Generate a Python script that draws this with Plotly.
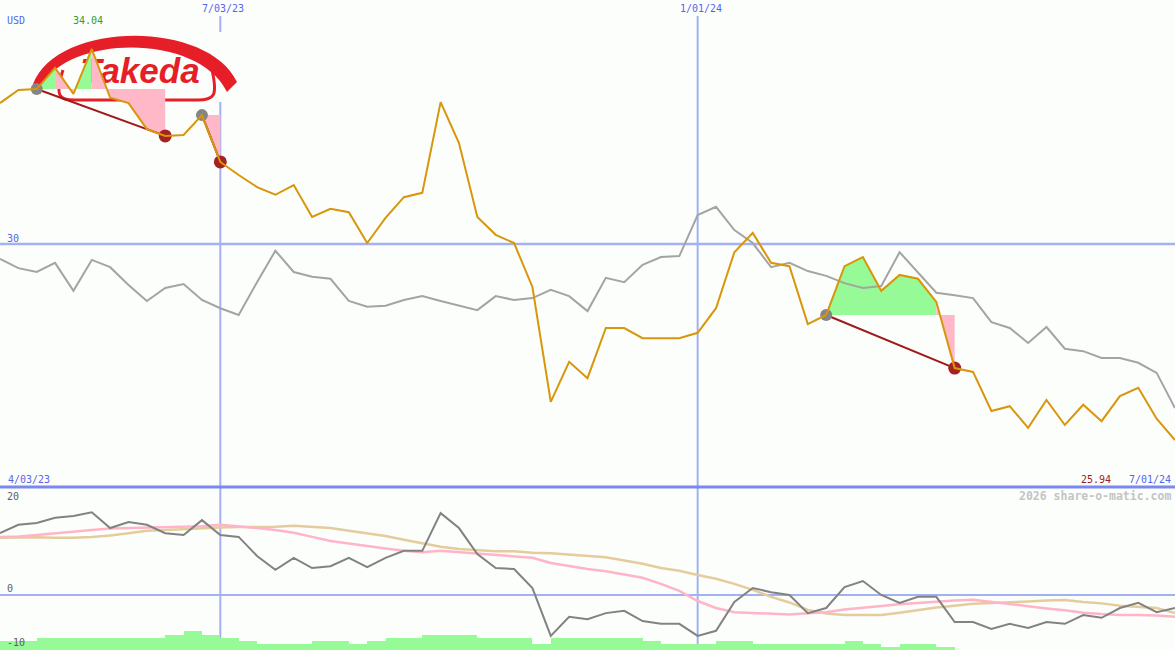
import plotly.graph_objects as go
import pandas as pd

W, H = 1175, 650

# ---------------- data ----------------
dates = pd.date_range("2023-04-10", periods=65, freq="7D")

price = [32.92, 33.19, 33.21, 33.65, 33.11, 34.04, 33.03, 32.92, 32.38, 32.24,
         32.26, 32.67, 31.70, 31.43, 31.18, 31.02, 31.22, 30.56, 30.73, 30.66,
         30.02, 30.54, 30.97, 31.06, 32.94, 32.09, 30.56, 30.19, 30.02, 29.11,
         26.73, 27.56, 27.22, 28.26, 28.26, 28.05, 28.05, 28.05, 28.16, 28.67,
         29.83, 30.23, 29.61, 29.54, 28.34, 28.53, 29.54, 29.73, 29.03, 29.36,
         29.28, 28.80, 27.43, 27.35, 26.54, 26.64, 26.19, 26.77, 26.25, 26.67,
         26.33, 26.85, 27.02, 26.38, 25.94]

index_cmp = [29.69, 29.50, 29.42, 29.61, 29.03, 29.67, 29.52, 29.15, 28.82, 29.09,
             29.17, 28.84, 28.67, 28.53, 29.21, 29.86, 29.42, 29.32, 29.28, 28.82,
             28.70, 28.72, 28.84, 28.92, 28.82, 28.72, 28.63, 28.92, 28.84, 28.88,
             29.05, 28.92, 28.61, 29.30, 29.21, 29.57, 29.73, 29.75, 30.60, 30.77,
             30.29, 30.02, 29.52, 29.61, 29.44, 29.34, 29.19, 29.09, 29.13, 29.83,
             29.42, 28.99, 28.94, 28.88, 28.38, 28.26, 27.95, 28.28, 27.83, 27.78,
             27.64, 27.64, 27.54, 27.33, 26.60]

momentum = [13.3, 15.1, 15.5, 16.6, 17.0, 17.8, 14.4, 15.7, 15.1, 13.3,
            12.9, 16.1, 12.9, 12.5, 8.4, 5.4, 8.0, 5.8, 6.2, 8.0,
            6.0, 8.0, 9.5, 9.5, 17.6, 14.4, 8.8, 5.8, 5.6, 1.5,
            -8.8, -4.7, -5.2, -3.9, -3.4, -5.6, -6.2, -6.2, -8.8, -7.7,
            -1.5, 1.5, 0.6, 0.0, -3.9, -2.8, 1.7, 3.0, 0.0, -1.7,
            -0.4, -0.4, -5.8, -5.8, -7.3, -6.2, -7.1, -5.8, -6.2, -4.3,
            -4.9, -2.8, -1.7, -3.7, -2.8]

momentum_fast = [12.5, 12.6, 12.9, 13.3, 13.7, 14.0, 14.3, 14.4, 14.6, 14.6,
                 14.7, 14.8, 15.1, 14.8, 14.4, 14.0, 13.4, 12.5, 11.6, 11.1,
                 10.5, 10.0, 9.5, 9.2, 9.5, 9.2, 9.0, 8.6, 8.4, 8.0,
                 6.9, 6.2, 5.6, 5.1, 4.4, 3.7, 2.4, 0.9, -1.3, -2.8,
                 -3.7, -3.9, -4.1, -4.2, -3.9, -3.7, -3.1, -2.7, -2.4, -2.0,
                 -1.7, -1.4, -1.2, -1.0, -1.5, -2.0, -2.5, -2.9, -3.3, -3.8,
                 -4.1, -4.3, -4.3, -4.4, -4.7]

momentum_slow = [12.3, 12.4, 12.4, 12.3, 12.3, 12.5, 12.8, 13.3, 13.8, 14.0,
                 14.2, 14.4, 14.5, 14.6, 14.6, 14.7, 14.9, 14.7, 14.4, 13.8,
                 13.3, 12.7, 11.9, 11.2, 10.4, 9.9, 9.7, 9.4, 9.4, 9.1,
                 9.0, 8.7, 8.4, 8.1, 7.4, 6.7, 5.8, 5.2, 4.3, 3.5,
                 2.4, 1.1, -0.4, -1.6, -3.2, -4.0, -4.3, -4.3, -4.3, -3.8,
                 -3.2, -2.7, -2.3, -1.9, -1.7, -1.6, -1.4, -1.2, -1.1, -1.5,
                 -1.8, -2.3, -2.6, -2.8, -3.9]

volume = [3, 3, 4, 4, 4, 4, 4, 4, 4, 5,
          6.3, 5, 4, 3, 2, 2, 2, 3, 3, 2,
          3, 4, 4, 5, 5, 5, 4, 4, 4, 2,
          4, 4, 4, 4, 4, 3, 2, 2, 2, 3,
          3, 2, 2, 2, 2, 2, 3, 2, 1, 2,
          2, 1, 0, 0, 0, 0, 0, 0, 0, 0,
          0, 0, 0, 0, 0]

pattern_start = [2, 11, 45]
pattern_end = [9, 12, 52]

marker_dates = ["2023-07-03", "2024-01-01"]
marker_labels = ["7/03/23", "1/01/24"]
first_label = "4/03/23"
last_label = "7/01/24"
currency = "USD"
top_level = 30
company = "Takeda"
credit = "2026 share-o-matic.com"

# ---------------- layout constants ----------------
BG = "#fcfefc"
BLUE_TXT = "#5565ee"
GRID = "#a3b1f2"
SEP = "#7b88ec"
GREEN_FILL = "#96fa96"
PINK_FILL = "#ffb8c8"
MONO = "DejaVu Sans Mono"

split = 1 - 487 / H
y_top_range = [24.966, 35.055]
y_osc_range = [-11.83, 23.23]
y_vol_range = [0, 54.33]
x_range = [dates[0], dates[-1]]
week_ms = 7 * 86400000


def px_x(p):
    return p / W


def px_y(p):
    return 1 - p / H


def px_to_date(p):
    return dates[0] + (dates[-1] - dates[0]) * (p / W)


def px_to_price(p):
    top_px, bot_px = 0, 487
    return y_top_range[1] - (p - top_px) / (bot_px - top_px) * (y_top_range[1] - y_top_range[0])


fig = go.Figure()

# logo text (drawn first, beneath everything)
fig.add_trace(go.Scatter(
    x=[px_to_date(140)], y=[px_to_price(74)], mode="text", text=[company],
    textfont=dict(family="Liberation Sans", size=35, color="#e61e28",
                  weight="bold", style="italic"),
    xaxis="x", yaxis="y", hoverinfo="skip", showlegend=False))

# pattern fills
gx, gy, rx, ry = [], [], [], []
for s, e in zip(pattern_start, pattern_end):
    b = price[s]
    for k in range(s, e):
        xs = [dates[k], dates[k], dates[k + 1], dates[k + 1], dates[k]]
        ys = [b, price[k], price[k + 1], b, b]
        if price[k + 1] >= b:
            gx += xs + [None]
            gy += ys + [None]
        else:
            rx += xs + [None]
            ry += ys + [None]

fig.add_trace(go.Scatter(x=gx, y=gy, fill="toself", fillcolor=GREEN_FILL, mode="lines",
                         line=dict(width=0, color=GREEN_FILL), xaxis="x", yaxis="y",
                         hoverinfo="skip", showlegend=False))
fig.add_trace(go.Scatter(x=rx, y=ry, fill="toself", fillcolor=PINK_FILL, mode="lines",
                         line=dict(width=0, color=PINK_FILL), xaxis="x", yaxis="y",
                         hoverinfo="skip", showlegend=False))

# comparison index
fig.add_trace(go.Scatter(x=dates, y=index_cmp, mode="lines",
                         line=dict(color="#a4a4a4", width=2), xaxis="x", yaxis="y",
                         showlegend=False))

# pattern trend lines
tx, ty = [], []
for s, e in zip(pattern_start, pattern_end):
    tx += [dates[s], dates[e], None]
    ty += [price[s], price[e], None]
fig.add_trace(go.Scatter(x=tx, y=ty, mode="lines", line=dict(color="#a01a1a", width=2),
                         xaxis="x", yaxis="y", showlegend=False))

fig.add_trace(go.Scatter(x=[dates[s] for s in pattern_start], y=[price[s] for s in pattern_start],
                         mode="markers", marker=dict(color="#858585", size=12),
                         xaxis="x", yaxis="y", showlegend=False))
fig.add_trace(go.Scatter(x=[dates[e] for e in pattern_end], y=[price[e] for e in pattern_end],
                         mode="markers", marker=dict(color="#a52222", size=13),
                         xaxis="x", yaxis="y", showlegend=False))

# price
fig.add_trace(go.Scatter(x=dates, y=price, mode="lines",
                         line=dict(color="#d8960a", width=2), xaxis="x", yaxis="y",
                         showlegend=False))

# bottom panel: volume
fig.add_trace(go.Bar(x=dates + pd.Timedelta(hours=84), y=volume, width=week_ms,
                     marker=dict(color=GREEN_FILL, line=dict(width=0)),
                     xaxis="x2", yaxis="y2", showlegend=False))

fig.add_trace(go.Scatter(x=dates, y=momentum_slow, mode="lines",
                         line=dict(color="#e4cc9c", width=2.5), xaxis="x2", yaxis="y3",
                         showlegend=False))
fig.add_trace(go.Scatter(x=dates, y=momentum_fast, mode="lines",
                         line=dict(color="#ffb4c8", width=2.5), xaxis="x2", yaxis="y3",
                         showlegend=False))
fig.add_trace(go.Scatter(x=dates, y=momentum, mode="lines",
                         line=dict(color="#828282", width=2), xaxis="x2", yaxis="y3",
                         showlegend=False))

# ---------------- shapes ----------------
shapes = []
for d in marker_dates:
    shapes.append(dict(type="line", xref="x", yref="paper", x0=d, x1=d,
                       y0=0, y1=px_y(16), line=dict(color=GRID, width=2), layer="below"))
shapes.append(dict(type="line", xref="paper", yref="y", x0=0, x1=1, y0=top_level, y1=top_level,
                   line=dict(color=GRID, width=2.5), layer="below"))
shapes.append(dict(type="line", xref="paper", yref="y3", x0=0, x1=1, y0=0, y1=0,
                   line=dict(color=GRID, width=2), layer="below"))
shapes.append(dict(type="line", xref="paper", yref="paper", x0=0, x1=1, y0=split, y1=split,
                   line=dict(color=SEP, width=3), layer="above"))

# logo backdrop and drawing
shapes.append(dict(type="rect", xref="paper", yref="paper", x0=px_x(30), x1=px_x(240),
                   y0=px_y(102), y1=px_y(32), fillcolor=BG, line=dict(width=0), layer="below"))


def path(points_cmds):
    out = []
    for cmd, pts in points_cmds:
        out.append(cmd + " " + " ".join(f"{px_x(a):.5f},{px_y(b):.5f}" for a, b in pts))
    return " ".join(out)


arc = path([("M", [(33, 84)]), ("C", [(58, 20), (208, 20), (237, 82)]),
            ("L", [(227, 92)]), ("C", [(198, 33), (70, 35), (42, 85)])]) + " Z"
shapes.append(dict(type="path", xref="paper", yref="paper", path=arc,
                   fillcolor="#e61e28", line=dict(width=0), layer="below"))
pill = path([("M", [(63, 70)]), ("C", [(53, 100), (62, 100), (78, 100)]),
             ("L", [(198, 100)]), ("C", [(214, 100), (218, 96), (212, 70)])])
shapes.append(dict(type="path", xref="paper", yref="paper", path=pill,
                   line=dict(color="#e61e28", width=3), layer="below"))

# ---------------- annotations ----------------
ann = []


def label(text, x, y, color, anchor="left", size=10, xref="paper", xshift=0):
    ann.append(dict(text=text, x=x, y=px_y(y), xref=xref, yref="paper", xanchor=anchor,
                    yanchor="middle", showarrow=False, xshift=xshift,
                    font=dict(family=MONO, size=size, color=color)))


label(currency, px_x(5), 21, BLUE_TXT)
label(f"{max(price):.2f}", px_x(71), 21, "#2ea02e")
for d, t in zip(marker_dates, marker_labels):
    label(t, d, 8.5, BLUE_TXT, anchor="center", xref="x", xshift=3)
label(str(top_level), px_x(5), 238, BLUE_TXT)
label(first_label, px_x(6), 479, BLUE_TXT)
label(f"{min(price):.2f}", px_x(1113), 479, "#a01c1c", anchor="right")
label(last_label, px_x(1173), 479, BLUE_TXT, anchor="right")
label(f"<b>{credit}</b>", px_x(1173), 496, "#c4c4c4", anchor="right", size=11.5)
label("20", px_x(5), 496.5, "#606060")
label("0", px_x(5), 588.5, "#606060")
label("-10", px_x(5), 642.5, "#606060")

ax_off = dict(visible=False, showgrid=False, zeroline=False, fixedrange=True)

fig.update_layout(
    width=W, height=H, margin=dict(l=0, r=0, t=0, b=0),
    paper_bgcolor=BG, plot_bgcolor=BG, showlegend=False, bargap=0,
    xaxis=dict(range=x_range, domain=[0, 1], anchor="y", **ax_off),
    yaxis=dict(range=y_top_range, domain=[split, 1], anchor="x", **ax_off),
    xaxis2=dict(range=x_range, domain=[0, 1], anchor="y2", **ax_off),
    yaxis2=dict(range=y_vol_range, domain=[0, split], anchor="x2", **ax_off),
    yaxis3=dict(range=y_osc_range, overlaying="y2", anchor="x2", **ax_off),
    shapes=shapes, annotations=ann,
)

fig.write_html("out.html", config={"displayModeBar": False},
               post_script="document.body.style.margin='0';document.body.style.background='" + BG + "';")
